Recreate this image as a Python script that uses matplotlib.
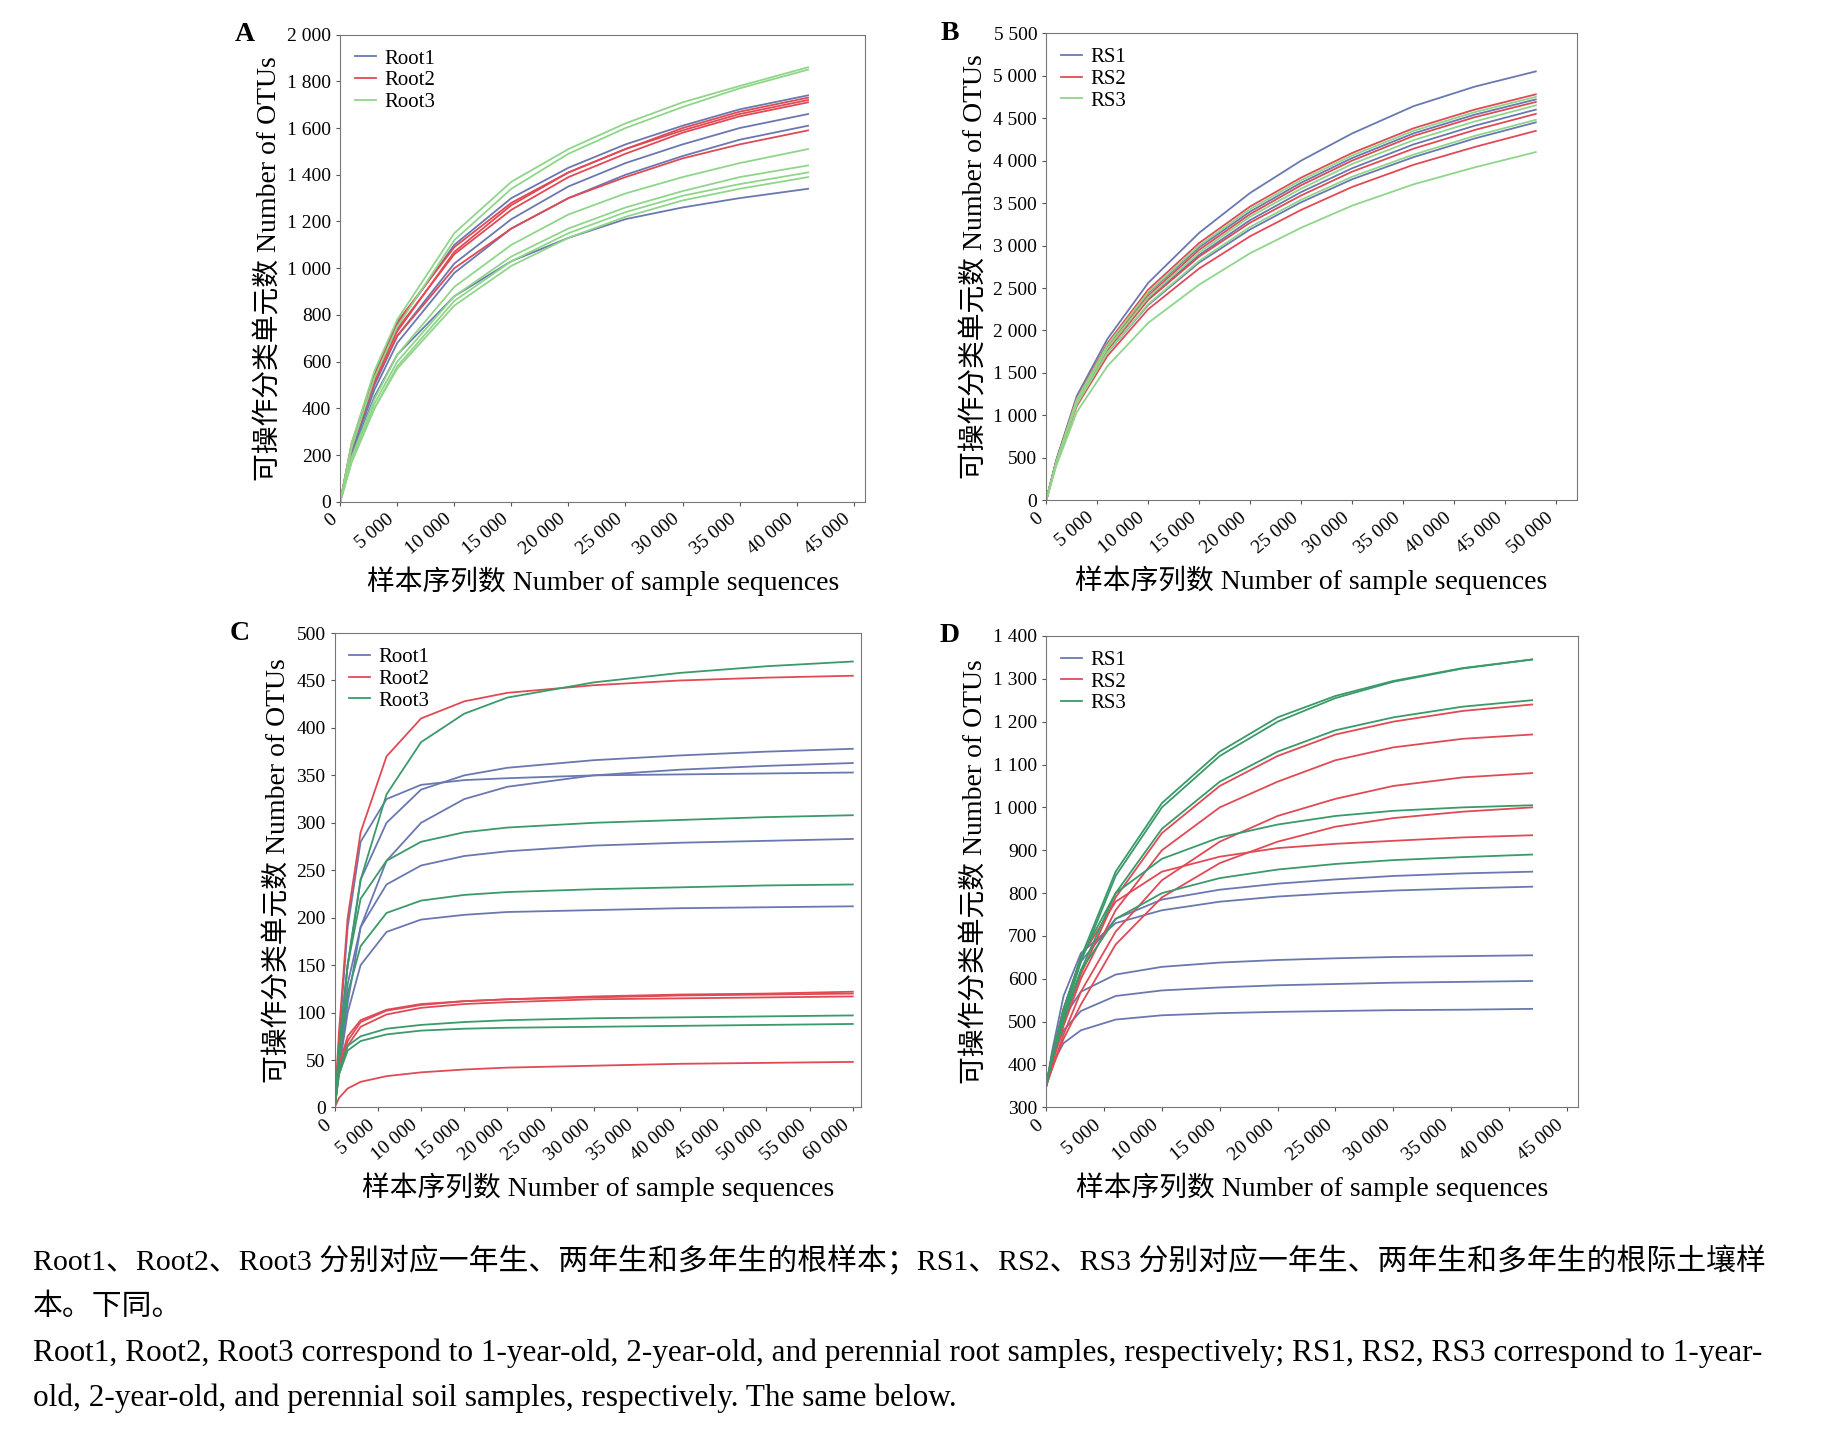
import matplotlib
matplotlib.use("Agg")
import matplotlib.pyplot as plt

FAM = ['Liberation Serif', 'Noto Sans CJK SC']
plt.rcParams['font.family'] = FAM

BLUE, RED = '#6a78b0', '#e04a55'
GREEN_A, GREEN = '#8fd68a', '#3a9a6a'

# ---- Panel A ----
xA = [0, 1000, 3000, 5000, 10000, 15000, 20000, 25000, 30000, 35000, 41000]
A_root1 = [
    [0, 240, 540, 760, 1100, 1300, 1430, 1530, 1610, 1680, 1740],
    [0, 220, 500, 710, 1020, 1210, 1350, 1450, 1530, 1600, 1660],
    [0, 210, 480, 680, 980, 1170, 1300, 1400, 1480, 1550, 1610],
    [0, 200, 450, 630, 880, 1030, 1130, 1210, 1260, 1300, 1340]]
A_root2 = [
    [0, 250, 550, 770, 1090, 1280, 1410, 1510, 1590, 1660, 1720],
    [0, 240, 530, 740, 1060, 1250, 1390, 1490, 1580, 1650, 1710],
    [0, 230, 520, 730, 1070, 1270, 1410, 1510, 1600, 1670, 1730],
    [0, 230, 510, 710, 1000, 1170, 1300, 1390, 1470, 1530, 1590]]
A_root3 = [
    [0, 250, 560, 780, 1150, 1370, 1510, 1620, 1710, 1780, 1860],
    [0, 230, 530, 750, 1120, 1340, 1490, 1600, 1690, 1770, 1850],
    [0, 190, 440, 630, 920, 1100, 1230, 1320, 1390, 1450, 1510],
    [0, 180, 420, 600, 880, 1050, 1170, 1260, 1330, 1390, 1440],
    [0, 170, 400, 580, 860, 1030, 1150, 1240, 1310, 1360, 1410],
    [0, 170, 400, 570, 840, 1010, 1130, 1220, 1290, 1340, 1390]]

# ---- Panel B ----
xB = [0, 1000, 3000, 6000, 10000, 15000, 20000, 25000, 30000, 36000, 42000, 48000]
B_rs1 = [
    [0, 480, 1230, 1900, 2560, 3150, 3620, 4000, 4320, 4640, 4870, 5050],
    [0, 470, 1190, 1830, 2440, 2980, 3400, 3740, 4030, 4320, 4540, 4720],
    [0, 450, 1150, 1770, 2370, 2890, 3300, 3630, 3910, 4190, 4410, 4600],
    [0, 450, 1140, 1740, 2300, 2800, 3190, 3510, 3780, 4040, 4260, 4450]]
B_rs2 = [
    [0, 470, 1200, 1850, 2480, 3030, 3460, 3800, 4090, 4380, 4600, 4780],
    [0, 460, 1170, 1800, 2410, 2950, 3370, 3710, 4000, 4290, 4510, 4690],
    [0, 460, 1160, 1770, 2360, 2870, 3270, 3590, 3870, 4140, 4360, 4550],
    [0, 440, 1110, 1700, 2250, 2730, 3110, 3420, 3690, 3950, 4160, 4350]]
B_rs3 = [
    [0, 460, 1190, 1830, 2450, 3000, 3430, 3770, 4060, 4350, 4570, 4750],
    [0, 450, 1160, 1790, 2390, 2920, 3340, 3670, 3960, 4240, 4460, 4650],
    [0, 440, 1130, 1740, 2310, 2820, 3220, 3540, 3810, 4070, 4290, 4480],
    [0, 410, 1040, 1580, 2090, 2540, 2910, 3210, 3470, 3720, 3920, 4100]]

# ---- Panel C ----
xC = [0, 500, 1500, 3000, 6000, 10000, 15000, 20000, 30000, 40000, 50000, 60000]
C_root1 = [
    [0, 60, 150, 240, 300, 335, 350, 358, 366, 371, 375, 378],
    [0, 40, 110, 190, 260, 300, 325, 338, 350, 356, 360, 363],
    [0, 70, 190, 280, 325, 340, 345, 347, 350, 351, 352, 353],
    [0, 50, 130, 190, 235, 255, 265, 270, 276, 279, 281, 283],
    [0, 40, 100, 150, 185, 198, 203, 206, 208, 210, 211, 212]]
C_root2 = [
    [0, 80, 200, 290, 370, 410, 428, 437, 445, 450, 453, 455],
    [0, 40, 70, 90, 102, 108, 112, 114, 117, 119, 120, 122],
    [0, 45, 75, 92, 103, 109, 112, 114, 116, 118, 119, 120],
    [0, 35, 65, 85, 98, 105, 109, 111, 114, 115, 116, 117],
    [0, 10, 20, 27, 33, 37, 40, 42, 44, 46, 47, 48]]
C_root3 = [
    [0, 60, 150, 240, 330, 385, 415, 432, 448, 458, 465, 470],
    [0, 60, 150, 220, 260, 280, 290, 295, 300, 303, 306, 308],
    [0, 50, 120, 170, 205, 218, 224, 227, 230, 232, 234, 235],
    [0, 40, 65, 75, 83, 87, 90, 92, 94, 95, 96, 97],
    [0, 35, 60, 70, 77, 81, 83, 84, 85, 86, 87, 88]]

# ---- Panel D ----
xD = [0, 500, 1500, 3000, 6000, 10000, 15000, 20000, 25000, 30000, 36000, 42000]
D_rs1 = [
    [350, 420, 530, 640, 740, 785, 808, 822, 832, 840, 846, 850],
    [350, 430, 560, 660, 730, 760, 780, 792, 800, 806, 811, 815],
    [350, 420, 510, 570, 610, 628, 638, 644, 648, 651, 653, 655],
    [350, 410, 480, 525, 560, 573, 580, 585, 588, 591, 593, 595],
    [350, 400, 450, 480, 505, 515, 520, 523, 525, 527, 528, 530]]
D_rs2 = [
    [350, 410, 500, 610, 790, 940, 1050, 1120, 1170, 1200, 1225, 1240],
    [350, 400, 490, 600, 760, 900, 1000, 1060, 1110, 1140, 1160, 1170],
    [350, 390, 470, 570, 710, 830, 920, 980, 1020, 1050, 1070, 1080],
    [350, 390, 460, 540, 680, 790, 870, 920, 955, 975, 990, 1000],
    [350, 420, 530, 650, 780, 850, 885, 905, 915, 922, 930, 935]]
D_rs3 = [
    [350, 420, 520, 650, 850, 1010, 1130, 1210, 1260, 1295, 1325, 1345],
    [350, 410, 510, 640, 840, 1000, 1120, 1200, 1255, 1293, 1324, 1345],
    [350, 410, 500, 620, 800, 950, 1060, 1130, 1180, 1210, 1235, 1250],
    [350, 420, 530, 650, 800, 880, 930, 960, 980, 992, 1000, 1005],
    [350, 410, 510, 620, 740, 800, 835, 855, 868, 877, 884, 890]]

def fmt(v):
    return f"{int(v):,}".replace(",", " ")

fig = plt.figure(figsize=(18.29, 14.42), dpi=100)

panels = [
    ('A', [0.186, 0.652, 0.287, 0.324], xA, [(A_root1, BLUE), (A_root2, RED), (A_root3, GREEN_A)],
     ['Root1', 'Root2', 'Root3'], range(0, 45001, 5000), range(0, 2001, 200), (0, 2000), (0, 46000)),
    ('B', [0.572, 0.653, 0.290, 0.324], xB, [(B_rs1, BLUE), (B_rs2, RED), (B_rs3, GREEN_A)],
     ['RS1', 'RS2', 'RS3'], range(0, 50001, 5000), range(0, 5501, 500), (0, 5500), (0, 52000)),
    ('C', [0.183, 0.232, 0.288, 0.329], xC, [(C_root1, BLUE), (C_root2, RED), (C_root3, GREEN)],
     ['Root1', 'Root2', 'Root3'], range(0, 60001, 5000), range(0, 501, 50), (0, 500), (0, 61000)),
    ('D', [0.572, 0.232, 0.291, 0.327], xD, [(D_rs1, BLUE), (D_rs2, RED), (D_rs3, GREEN)],
     ['RS1', 'RS2', 'RS3'], range(0, 45001, 5000), range(300, 1401, 100), (300, 1400), (0, 46000)),
]

for letter, pos, xs, groups, names, xt, yt, ylim, xlim in panels:
    ax = fig.add_axes(pos)
    for (curves, col), name in zip(groups, names):
        for i, c in enumerate(curves):
            ax.plot(xs, c, color=col, lw=1.3, label=name if i == 0 else None)
    ax.set_xlim(*xlim)
    ax.set_ylim(*ylim)
    ax.set_xticks(list(xt))
    ax.set_xticklabels([fmt(v) for v in xt], rotation=40, ha='right', fontsize=14)
    ax.set_yticks(list(yt))
    ax.set_yticklabels([fmt(v) for v in yt], fontsize=14)
    ax.tick_params(length=3, color='#555555')
    for s in ax.spines.values():
        s.set_color('#777777')
    ax.set_xlabel('样本序列数 Number of sample sequences', fontsize=20, labelpad=6)
    ax.set_ylabel('可操作分类单元数 Number of OTUs', fontsize=20, labelpad=4)
    ax.legend(loc='upper left', frameon=False, fontsize=15, handlelength=1.0,
              handletextpad=0.4, labelspacing=0.1, borderaxespad=0.3)
    ax.text(-0.2, 1.0, letter, transform=ax.transAxes, fontsize=20, fontweight='bold',
            va='center', ha='left')

cap = [
    (0.115, 'Root1、Root2、Root3 分别对应一年生、两年生和多年生的根样本；RS1、RS2、RS3 分别对应一年生、两年生和多年生的根际土壤样', 21.5),
    (0.084, '本。下同。', 21.5),
    (0.051, 'Root1, Root2, Root3 correspond to 1-year-old, 2-year-old, and perennial root samples, respectively; RS1, RS2, RS3 correspond to 1-year-', 22.5),
    (0.020, 'old, 2-year-old, and perennial soil samples, respectively. The same below.', 22.5),
]
for y, t, fs in cap:
    fig.text(0.018, y, t, fontsize=fs, va='bottom', ha='left')

fig.savefig('out.png', dpi=100)
